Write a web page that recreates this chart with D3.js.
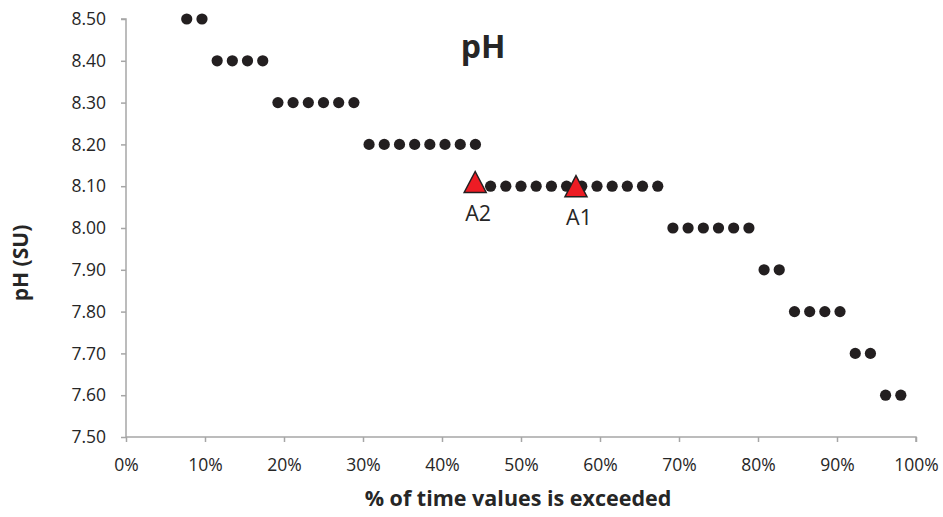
<!DOCTYPE html>
<html>
<head>
<meta charset="utf-8">
<script src="https://cdn.jsdelivr.net/npm/d3@7/dist/d3.min.js"></script>
<style>
  html, body { margin: 0; padding: 0; background: #ffffff; }
  svg { display: block; }
  text { font-family: "Open Sans", "Noto Sans", sans-serif; fill: #262626; }
</style>
</head>
<body>
<svg id="chart" width="943" height="517"></svg>
<script>
// Percent of time each pH value is exceeded (duration curve positions)
const exceedPct = [
  7.69, 9.62,
  11.54, 13.46, 15.38, 17.31,
  19.23, 21.15, 23.08, 25.00, 26.92, 28.85,
  30.77, 32.69, 34.62, 36.54, 38.46, 40.38, 42.31, 44.23,
  46.15, 48.08, 50.00, 51.92, 53.85, 55.77, 57.69, 59.62, 61.54, 63.46, 65.38, 67.31,
  69.23, 71.15, 73.08, 75.00, 76.92, 78.85,
  80.77, 82.69,
  84.62, 86.54, 88.46, 90.38,
  92.31, 94.23,
  96.15, 98.08
];
// Ranked pH readings (SU)
const phValues = [
  8.50, 8.50,
  8.40, 8.40, 8.40, 8.40,
  8.30, 8.30, 8.30, 8.30, 8.30, 8.30,
  8.20, 8.20, 8.20, 8.20, 8.20, 8.20, 8.20, 8.20,
  8.10, 8.10, 8.10, 8.10, 8.10, 8.10, 8.10, 8.10, 8.10, 8.10, 8.10, 8.10,
  8.00, 8.00, 8.00, 8.00, 8.00, 8.00,
  7.90, 7.90,
  7.80, 7.80, 7.80, 7.80,
  7.70, 7.70,
  7.60, 7.60
];
// Sampled sites plotted on the curve
const siteNames = ["A1", "A2"];
const sitePct = [56.96, 44.2];
const sitePh = [8.10, 8.11];

// Axis ticks
const yTicks = [7.5, 7.6, 7.7, 7.8, 7.9, 8.0, 8.1, 8.2, 8.3, 8.4, 8.5];
const xTicks = [0, 10, 20, 30, 40, 50, 60, 70, 80, 90, 100];

const svg = d3.select("#chart");
const plot = { left: 126, right: 916, top: 19, bottom: 437 };

const x = d3.scaleLinear().domain([0, 100]).range([plot.left, plot.right]);
const y = d3.scaleLinear().domain([7.5, 8.5]).range([plot.bottom, plot.top]);

const axisColor = "#a6a6a6";

// Y axis
const yAxis = svg.append("g")
  .attr("transform", `translate(${plot.left},0)`)
  .call(d3.axisLeft(y).tickValues(yTicks).tickSize(5).tickPadding(15)
    .tickFormat(d3.format(".2f")));
// X axis
const xAxis = svg.append("g")
  .attr("transform", `translate(0,${plot.bottom})`)
  .call(d3.axisBottom(x).tickValues(xTicks).tickSize(5).tickPadding(17)
    .tickFormat(d => d + "%"));

[yAxis, xAxis].forEach(g => {
  g.select(".domain").attr("stroke", axisColor).attr("stroke-width", 1.5);
  g.selectAll(".tick line").attr("stroke", axisColor).attr("stroke-width", 1.5);
  g.selectAll(".tick text")
    .style("font-family", '"Open Sans", sans-serif')
    .style("font-size", "17.5px")
    .attr("fill", "#262626");
});
// domain paths draw outer ticks by default; keep them flush with the axes
yAxis.select(".domain").attr("d", `M-5,${plot.top}H0V${plot.bottom}`);
xAxis.select(".domain").attr("d", `M${plot.left},0H${plot.right}V5`);

// Data points
const points = exceedPct.map((p, i) => ({ p, v: phValues[i] }));
svg.append("g")
  .selectAll("circle")
  .data(points)
  .join("circle")
  .attr("cx", d => x(d.p))
  .attr("cy", d => y(d.v))
  .attr("r", 5.6)
  .attr("fill", "#231f20");

// Site markers (triangles centred on their value)
const sites = siteNames.map((n, i) => ({ n, p: sitePct[i], v: sitePh[i] }));
const triW = 22, triH = 21;
function triangle() {
  const path = d3.path();
  path.moveTo(0, -triH / 2);
  path.lineTo(triW / 2, triH / 2);
  path.lineTo(-triW / 2, triH / 2);
  path.closePath();
  return path.toString();
}
const siteG = svg.append("g")
  .selectAll("g")
  .data(sites)
  .join("g")
  .attr("transform", d => `translate(${x(d.p)},${y(d.v)})`);
siteG.append("path")
  .attr("d", triangle())
  .attr("fill", "#ed1c24")
  .attr("stroke", "#231f20")
  .attr("stroke-width", 1.5)
  .attr("stroke-linejoin", "miter");
siteG.append("text")
  .attr("x", 3)
  .attr("y", 39)
  .attr("text-anchor", "middle")
  .style("font-size", "21.5px")
  .text(d => d.n);

// Title
svg.append("text")
  .attr("x", 483)
  .attr("y", 58)
  .attr("text-anchor", "middle")
  .style("font-size", "32px")
  .style("font-weight", "bold")
  .text("pH");

// Axis titles
svg.append("text")
  .attr("x", 518)
  .attr("y", 506)
  .attr("text-anchor", "middle")
  .style("font-size", "21.5px")
  .style("font-weight", "bold")
  .text("% of time values is exceeded");

svg.append("text")
  .attr("transform", "translate(28,263) rotate(-90)")
  .attr("text-anchor", "middle")
  .style("font-size", "21px")
  .style("font-weight", "bold")
  .text("pH (SU)");
</script>
</body>
</html>
